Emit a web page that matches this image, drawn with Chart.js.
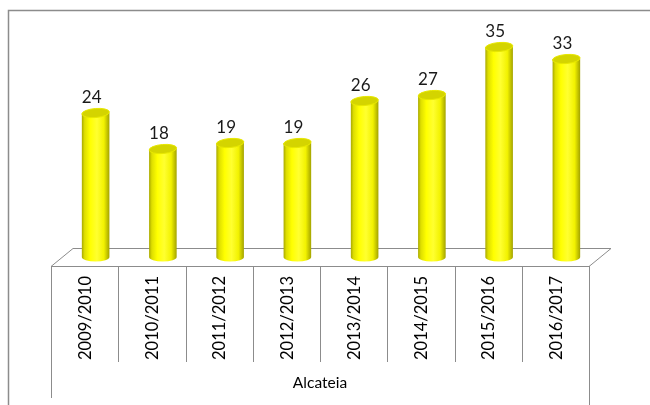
<!DOCTYPE html>
<html>
<head>
<meta charset="utf-8">
<script src="https://cdn.jsdelivr.net/npm/chart.js@4"></script>
<style>
    html, body { margin: 0; padding: 0; background: #ffffff; }
    canvas { display: block; }
</style>
</head>
<body>
<canvas id="chart" width="650" height="405"></canvas>
<script>
// Chart data
const categories = ['2009/2010', '2010/2011', '2011/2012', '2012/2013', '2013/2014', '2014/2015', '2015/2016', '2016/2017'];
const values = [24, 18, 19, 19, 26, 27, 35, 33];
const groupLabel = 'Alcateia';

// 3D look: floor depth (half of it, from the bar row to the front edge)
const depthX = 11;
const depthY = 9;
const capRy = 4.5;

// Frame round the whole picture
const framePlugin = {
    id: 'frame',
    beforeDraw: function(chart) {
        const ctx = chart.ctx;
        ctx.save();
        ctx.fillStyle = '#ffffff';
        ctx.fillRect(0, 0, chart.width, chart.height);
        ctx.strokeStyle = '#8c8c8c';
        ctx.lineWidth = 1.5;
        ctx.beginPath();
        ctx.moveTo(8.5, chart.height);
        ctx.lineTo(8.5, 10.5);
        ctx.lineTo(chart.width, 10.5);
        ctx.stroke();
        ctx.restore();
    }
};

// Floor and category table under the bars
const floorPlugin = {
    id: 'floor',
    beforeDatasetsDraw: function(chart) {
        const {ctx, chartArea: {left, right, bottom}} = chart;
        const xScale = chart.scales.x;
        const frontY = bottom + depthY;
        const backY = bottom - depthY;
        const fl = left - depthX, fr = right - depthX;
        const bl = left + depthX, br = right + depthX;

        ctx.save();
        ctx.strokeStyle = '#8c8c8c';
        ctx.lineWidth = 1;
        ctx.beginPath();
        ctx.moveTo(fl, frontY + 0.5);
        ctx.lineTo(fr, frontY + 0.5);
        ctx.lineTo(br, backY + 0.5);
        ctx.lineTo(bl, backY + 0.5);
        ctx.closePath();
        ctx.stroke();

        // table lines
        const cell = (xScale.getPixelForValue(1) - xScale.getPixelForValue(0));
        ctx.beginPath();
        for (let i = 0; i <= categories.length; i++) {
            const x = Math.round(xScale.getPixelForValue(i) - cell / 2 - depthX) + 0.5;
            let end = 362;
            if (i === 0) end = 398;
            if (i === categories.length) end = chart.height;
            ctx.moveTo(x, frontY);
            ctx.lineTo(x, end);
        }
        ctx.stroke();

        // rotated category labels
        ctx.fillStyle = '#000000';
        ctx.font = '16.5px Lato';
        ctx.textAlign = 'center';
        ctx.textBaseline = 'middle';
        categories.forEach((label, i) => {
            const x = xScale.getPixelForValue(i) - depthX + 1;
            ctx.save();
            ctx.translate(x, 318);
            ctx.rotate(-Math.PI / 2);
            ctx.fillText(label, 0, 0);
            ctx.restore();
        });

        ctx.font = '15.5px Lato';
        ctx.fillText(groupLabel, (fl + fr) / 2, 383);
        ctx.restore();
    }
};

// Cylinders drawn over the (transparent) bar elements
const cylinderPlugin = {
    id: 'cylinders',
    afterDatasetsDraw: function(chart) {
        const ctx = chart.ctx;
        const meta = chart.getDatasetMeta(0);
        ctx.save();
        meta.data.forEach((bar, i) => {
            const x = bar.x, top = bar.y, base = bar.base;
            const w = bar.width, rx = w / 2;
            const l = x - rx, r = x + rx;

            const grad = ctx.createLinearGradient(l, 0, r, 0);
            grad.addColorStop(0, '#a9a900');
            grad.addColorStop(0.1, '#dede00');
            grad.addColorStop(0.3, '#ffff00');
            grad.addColorStop(0.55, '#ffff30');
            grad.addColorStop(0.8, '#f2f200');
            grad.addColorStop(1, '#a3a300');

            // body + bottom half ellipse
            ctx.fillStyle = grad;
            ctx.beginPath();
            ctx.moveTo(l, top);
            ctx.lineTo(l, base);
            ctx.ellipse(x, base, rx, capRy, 0, Math.PI, 0, true);
            ctx.lineTo(r, top);
            ctx.closePath();
            ctx.fill();

            // top cap
            ctx.fillStyle = '#d4d400';
            ctx.strokeStyle = '#e8e800';
            ctx.lineWidth = 1;
            ctx.beginPath();
            ctx.ellipse(x, top, rx, capRy, -0.08, 0, Math.PI * 2);
            ctx.fill();
            ctx.stroke();

            // value label
            ctx.fillStyle = '#1a1a1a';
            ctx.font = '17px Lato';
            ctx.textAlign = 'center';
            ctx.textBaseline = 'alphabetic';
            ctx.fillText(String(values[i]), x - 4, top - capRy - 6);
        });
        ctx.restore();
    }
};

const ctx = document.getElementById('chart').getContext('2d');
const chart = new Chart(ctx, {
    type: 'bar',
    data: {
        labels: categories,
        datasets: [{
            data: values,
            backgroundColor: 'rgba(0, 0, 0, 0)',
            borderWidth: 0,
            categoryPercentage: 1,
            barPercentage: 0.41
        }]
    },
    options: {
        responsive: false,
        animation: false,
        layout: {
            padding: { left: 62, right: 50, top: 17, bottom: 148 }
        },
        plugins: {
            legend: { display: false },
            tooltip: { enabled: false }
        },
        scales: {
            x: { display: false, offset: true },
            y: { display: false, min: 0, max: 40 }
        }
    },
    plugins: [framePlugin, floorPlugin, cylinderPlugin]
});
</script>
</body>
</html>
